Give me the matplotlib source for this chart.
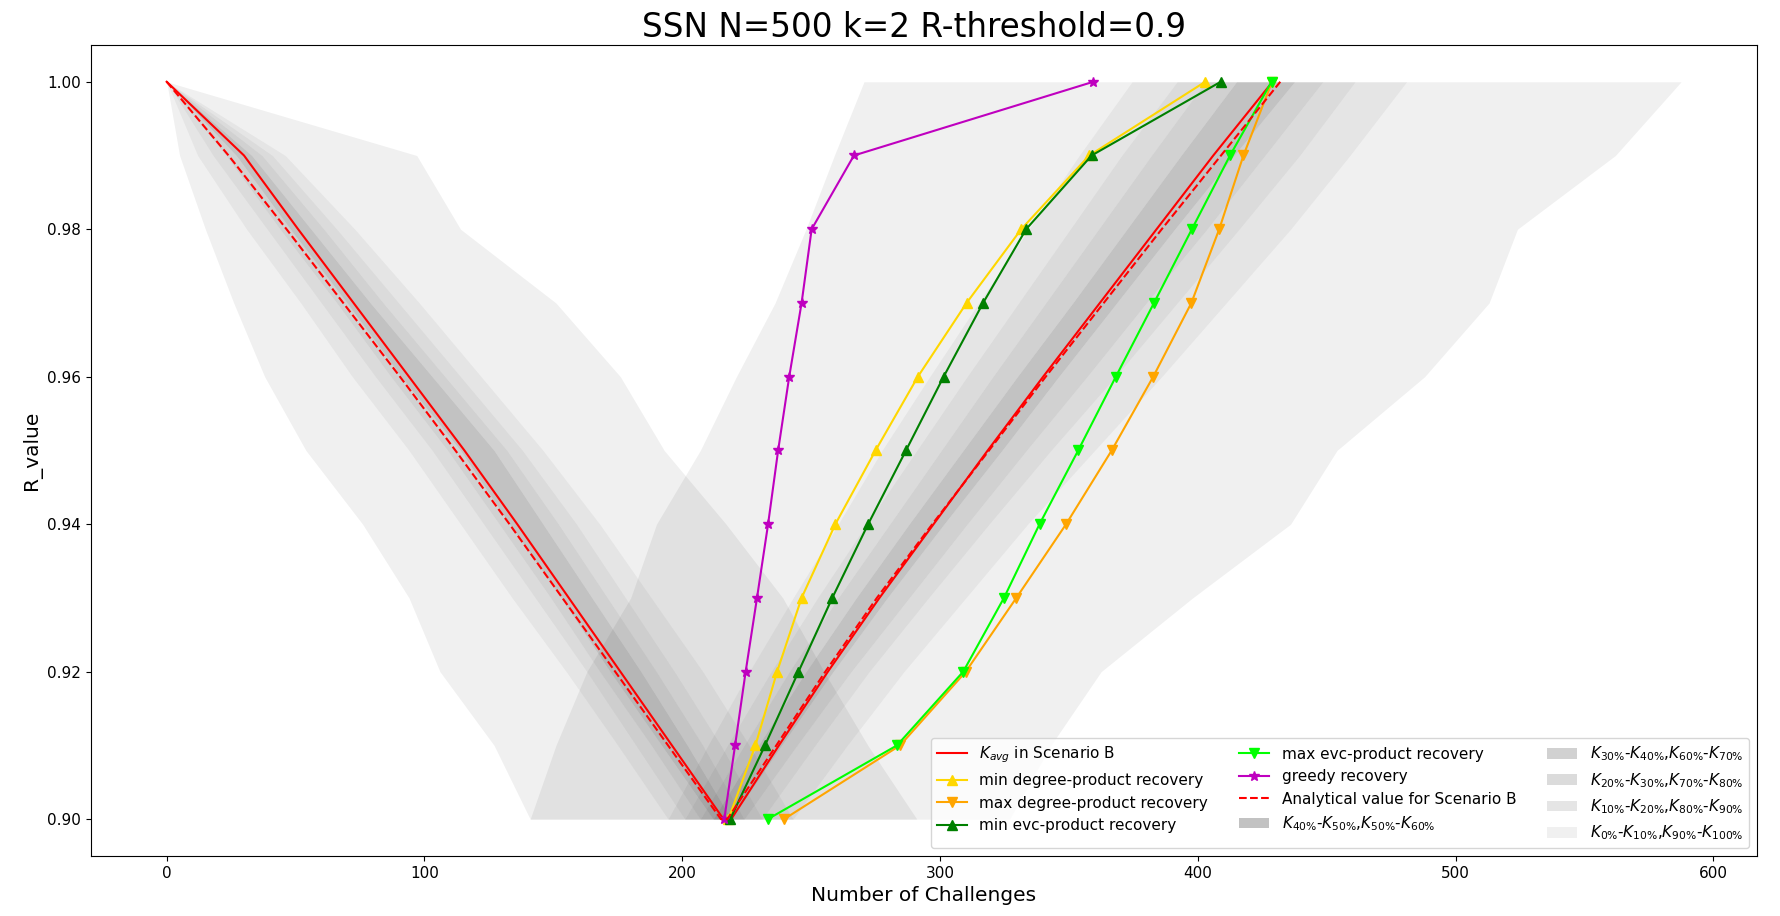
import numpy as np
import matplotlib.pyplot as plt

# R levels
R_down = [1.00, 0.99, 0.98, 0.97, 0.96, 0.95, 0.94, 0.93, 0.92, 0.91, 0.90]
R_up = [0.90, 0.91, 0.92, 0.93, 0.94, 0.95, 0.96, 0.97, 0.98, 0.99, 1.00]

# K_avg (scenario B) and analytical value
kavg_down = [0, 30, 51, 72.5, 94, 115.5, 136, 156, 176, 196, 216]
kavg_up = [219, 237.5, 256.5, 276.5, 297.5, 318.5, 340, 362, 384, 406, 429]
ana_down = [0, 24, 46.5, 68.5, 90.5, 112, 133, 153.5, 174, 194.5, 215]
ana_up = [217.5, 236.5, 255.5, 275.5, 297, 319, 341, 363.5, 386, 409, 432]

# recovery strategies
min_deg = [217.9, 228.4, 236.8, 246.3, 259.4, 275.0, 291.4, 310.3, 331.5, 357.9, 402.9]
max_deg = [239.5, 284.5, 310.0, 329.6, 348.9, 366.6, 382.7, 397.5, 408.3, 417.7, 428.8]
min_evc = [218.6, 232.1, 245.1, 258.2, 272.1, 286.8, 301.4, 316.7, 333.4, 358.8, 408.9]
max_evc = [233.2, 283.3, 309.0, 324.8, 338.6, 353.6, 368.2, 383.0, 397.7, 412.5, 428.6]
greedy = [216.3, 220.5, 224.6, 229.0, 233.3, 237.2, 241.5, 246.3, 250.2, 266.6, 359.5]

# percentiles, attack phase (R going down)
d_k0 = [0, 5, 15, 26, 38, 54, 76, 94, 106, 127, 141]
d_k10 = [0, 12, 31, 52, 72, 94, 114, 134, 155, 175, 194.5]
d_k20 = [0, 18, 39, 60, 81, 103, 123, 143, 163, 182, 201]
d_k30 = [0, 23, 44, 66, 87, 109, 129, 149, 168, 188, 207]
d_k40 = [0, 27, 48, 70, 91, 114, 133, 153, 172, 192, 212]
d_k60 = [0, 33, 56, 79, 103, 127, 146, 165, 184, 202, 219]
d_k70 = [0, 37, 61, 84, 108, 132, 152, 171, 190, 208, 224]
d_k80 = [0, 41, 66, 90, 114, 138, 159, 178, 197, 215, 231]
d_k90 = [0, 46, 73, 98, 122, 146, 168, 188, 208, 226, 243]
d_k100 = [0, 97, 114, 151, 176, 193, 217, 239, 255, 272, 291]

# percentiles, recovery phase (R going up)
u_k0 = [141, 151, 163, 180, 190, 207, 221, 236, 248, 259, 270.5]
u_k10 = [194.5, 210, 226, 243, 260.5, 277.5, 296, 315, 334.5, 354, 374.5]
u_k20 = [201, 217.5, 234.5, 252.5, 271.5, 291, 310.5, 330.5, 350.5, 370.5, 392]
u_k30 = [207, 224, 241.5, 260.5, 280.5, 300.5, 320.5, 341, 361.5, 382, 403]
u_k40 = [212, 229.5, 248, 267.5, 288, 309, 330, 351.5, 372.5, 393.5, 415]
u_k60 = [219, 238.5, 258.5, 279.5, 301.5, 324, 346, 368.5, 391, 414, 437.5]
u_k70 = [224, 244.5, 265.5, 288, 310.5, 333.5, 357, 380, 403.5, 426, 448.5]
u_k80 = [231, 251.5, 272.5, 295.5, 319, 343, 368, 392, 416, 439.5, 461]
u_k90 = [243, 264, 286, 310, 334, 360, 386, 411, 436, 459, 481]
u_k100 = [327, 343, 362.5, 398, 436, 454, 488, 513, 524, 562, 587.5]

band_labels = [r'$K_{0\%}$-$K_{10\%}$,$K_{90\%}$-$K_{100\%}$',
               r'$K_{10\%}$-$K_{20\%}$,$K_{80\%}$-$K_{90\%}$',
               r'$K_{20\%}$-$K_{30\%}$,$K_{70\%}$-$K_{80\%}$',
               r'$K_{30\%}$-$K_{40\%}$,$K_{60\%}$-$K_{70\%}$',
               r'$K_{40\%}$-$K_{50\%}$,$K_{50\%}$-$K_{60\%}$']
band_alpha = [0.06, 0.10, 0.14, 0.18, 0.24]

fig, ax = plt.subplots(figsize=(17.8, 9.16), dpi=100)
fig.subplots_adjust(left=0.0511, right=0.987, bottom=0.0655, top=0.951)

handles = []
h, = ax.plot(kavg_down + kavg_up, R_down + R_up, color='r', lw=1.5,
             label=r'$K_{avg}$ in Scenario B')
handles.append(h)
h, = ax.plot(min_deg, R_up, color='gold', marker='^', ms=7, lw=1.5,
             label='min degree-product recovery')
handles.append(h)
h, = ax.plot(max_deg, R_up, color='orange', marker='v', ms=7, lw=1.5,
             label='max degree-product recovery')
handles.append(h)
h, = ax.plot(min_evc, R_up, color='green', marker='^', ms=7, lw=1.5,
             label='min evc-product recovery')
handles.append(h)
h, = ax.plot(max_evc, R_up, color='lime', marker='v', ms=7, lw=1.5,
             label='max evc-product recovery')
handles.append(h)
h, = ax.plot(greedy, R_up, color='m', marker='*', ms=7, lw=1.5,
             label='greedy recovery')
handles.append(h)
h, = ax.plot(ana_down + ana_up, R_down + R_up, color='r', ls='--', lw=1.5,
             label='Analytical value for Scenario B')
handles.append(h)

down = [d_k0, d_k10, d_k20, d_k30, d_k40, d_k60, d_k70, d_k80, d_k90, d_k100]
up = [u_k0, u_k10, u_k20, u_k30, u_k40, u_k60, u_k70, u_k80, u_k90, u_k100]
band_handles = []
for i in range(5):
    a = band_alpha[i]
    for R, K in ((R_down, down), (R_up, up)):
        if i < 4:
            p = ax.fill_betweenx(R, K[i], K[i + 1], color='k', alpha=a, lw=0)
            ax.fill_betweenx(R, K[8 - i], K[9 - i], color='k', alpha=a, lw=0)
        else:
            p = ax.fill_betweenx(R, K[4], K[5], color='k', alpha=a, lw=0)
    p.set_label(band_labels[i])
    band_handles.append(p)

handles += band_handles[::-1]
ax.legend(handles=handles, loc='lower right', ncol=3, fontsize=11)

ax.set_title('SSN N=500 k=2 R-threshold=0.9', fontsize=23.5, x=0.494)
ax.set_xlabel('Number of Challenges', fontsize=14.5)
ax.set_ylabel('R_value', fontsize=14.5)
ax.tick_params(labelsize=11)

fig.savefig('out.png')
